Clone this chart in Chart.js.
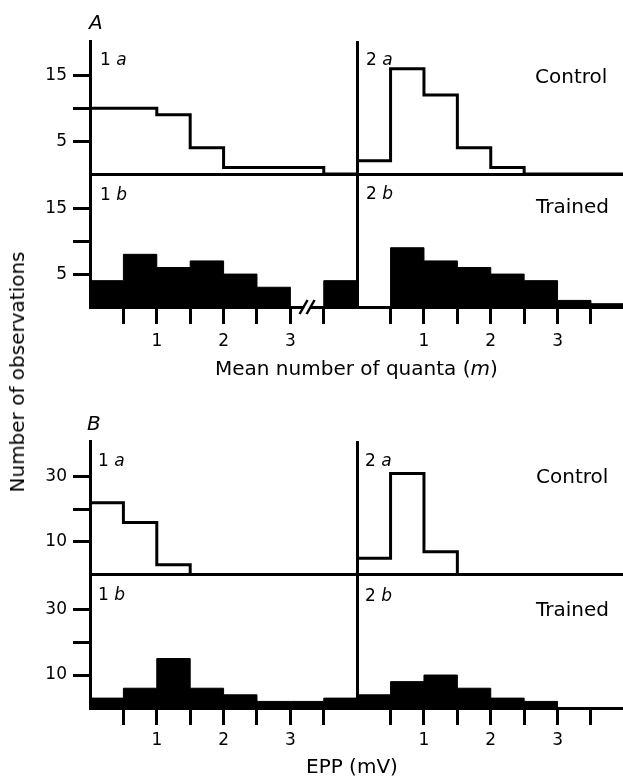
<!DOCTYPE html>
<html>
<head>
<meta charset="utf-8">
<script src="https://cdn.jsdelivr.net/npm/chart.js@4.4.1/dist/chart.umd.min.js"></script>
<style>
body { margin: 0; background: #fff; }
#wrap { position: relative; width: 623px; height: 779px; overflow: hidden; font-family: 'DejaVu Sans', sans-serif; color: #000; }
canvas { position: absolute; left: 0; }
.t { position: absolute; line-height: 1; white-space: nowrap; z-index: 2; }
.lab { font-size: 17px; }
.big { font-size: 20px; }
</style>
</head>
<body>
<div id="wrap">
  <canvas id="chartA" width="623" height="360" style="top:0"></canvas>
  <canvas id="chartB" width="623" height="379" style="top:400px"></canvas>

  <div class="t big" style="left:89px;top:12px;font-style:italic">A</div>
  <div class="t big" style="left:87px;top:413px;font-style:italic">B</div>

  <div class="t lab" style="left:100px;top:51px">1 <i>a</i></div>
  <div class="t lab" style="left:100px;top:186px">1 <i>b</i></div>
  <div class="t lab" style="left:366px;top:51px">2 <i>a</i></div>
  <div class="t lab" style="left:366px;top:185px">2 <i>b</i></div>
  <div class="t lab" style="left:98px;top:452px">1 <i>a</i></div>
  <div class="t lab" style="left:98px;top:586px">1 <i>b</i></div>
  <div class="t lab" style="left:365px;top:452px">2 <i>a</i></div>
  <div class="t lab" style="left:365px;top:587px">2 <i>b</i></div>

  <div class="t big" style="left:535px;top:66px">Control</div>
  <div class="t big" style="left:536px;top:196px">Trained</div>
  <div class="t big" style="left:536px;top:466px">Control</div>
  <div class="t big" style="left:536px;top:599px">Trained</div>

  <div class="t big" style="left:215px;top:358px">Mean number of quanta (<i>m</i>)</div>
  <div class="t big" style="left:306px;top:756px">EPP (mV)</div>
  <div class="t big" style="left:17px;top:372px;transform:translate(-50%,-50%) rotate(-90deg)">Number of observations</div>
</div>

<script>
// bin left edges, 0.5 wide; the last bin (3.5-4) is the overflow bin
var binEdges = [0, 0.5, 1, 1.5, 2, 2.5, 3, 3.5];
var binEnd = 4;
var rightOffset = 4; // panel 2 sits to the right of panel 1 on the same axis

// A: mean number of quanta (m)
var quantaControl1 = [10, 10, 9, 4, 1, 1, 1, 0];
var quantaTrained1 = [4, 8, 6, 7, 5, 3, 0, 4];
var quantaControl2 = [2, 16, 12, 4, 1, 0, 0, 0];
var quantaTrained2 = [0, 9, 7, 6, 5, 4, 1, 0.5];

// B: EPP (mV)
var eppControl1 = [22, 16, 3, 0, 0, 0, 0, 0];
var eppTrained1 = [3, 6, 15, 6, 4, 2, 2, 3];
var eppControl2 = [5, 31, 7, 0, 0, 0, 0, 0];
var eppTrained2 = [4, 8, 10, 6, 3, 2, 0, 0];

// ticks
var xTicks = [0, 0.5, 1, 1.5, 2, 2.5, 3, 3.5, 4, 4.5, 5, 5.5, 6, 6.5, 7, 7.5];
var quantaYTicks = [0, 5, 10, 15];
var quantaYLabels = [5, 15];
var eppYTicks = [0, 10, 20, 30];
var eppYLabels = [10, 30];

var CLEAR = 'rgba(0,0,0,0)';
Chart.defaults.font.family = "'DejaVu Sans', sans-serif";
Chart.defaults.font.size = 17;
Chart.defaults.color = '#000';

function stepPoints(values, offset) {
    var pts = binEdges.map(function(e, i) {
        return { x: e + offset, y: values[i] };
    });
    pts.push({ x: binEnd + offset, y: 0 });
    return pts;
}

function histSet(values, offset, axis, filled) {
    return {
        data: stepPoints(values, offset),
        yAxisID: axis,
        stepped: 'before', // hold each bin's value across to the next edge
        borderColor: '#000',
        borderWidth: filled ? 1 : 3,
        backgroundColor: '#000',
        fill: filled ? 'origin' : false,
        pointRadius: 0
    };
}

function yAxis(max, tickValues, labelled, isTop) {
    return {
        type: 'linear',
        position: 'left',
        stack: 'panel',
        stackWeight: 1,
        min: 0,
        max: max,
        afterBuildTicks: function(scale) {
            scale.ticks = tickValues.map(function(v) { return { value: v }; });
        },
        afterFit: function(scale) { scale.width = 90; },
        border: { display: true, color: '#000', width: 3 },
        grid: {
            color: function(c) { return isTop && c.tick && c.tick.value === 0 ? '#000' : CLEAR; },
            lineWidth: 3,
            tickColor: function(c) { return c.tick && c.tick.value !== 0 ? '#000' : CLEAR; },
            tickWidth: 3,
            tickLength: 17
        },
        ticks: {
            padding: 6,
            callback: function(v) { return labelled.indexOf(v) >= 0 ? String(v) : ''; }
        }
    };
}

function xAxis(xHeight, pad) {
    return {
        type: 'linear',
        min: 0,
        max: 7.98,
        afterBuildTicks: function(scale) {
            scale.ticks = xTicks.map(function(v) { return { value: v }; });
        },
        afterFit: function(scale) { scale.height = xHeight; },
        border: { color: '#000', width: 3 },
        grid: {
            color: function(c) { return c.tick && c.tick.value % rightOffset === 0 ? '#000' : CLEAR; },
            lineWidth: 3,
            tickColor: function(c) { return c.tick && c.tick.value % rightOffset === 0 ? CLEAR : '#000'; },
            tickWidth: 3,
            tickLength: 17
        },
        ticks: {
            autoSkip: false,
            maxRotation: 0,
            padding: pad,
            callback: function(v) {
                var m = v % rightOffset;
                return Number.isInteger(v) && m !== 0 ? String(m) : '';
            }
        }
    };
}

// "//" mark on the quanta axis
var axisBreak = {
    id: 'axisBreak',
    afterDatasetsDraw: function(chart, args, opts) {
        var x = chart.scales.x.getPixelForValue(opts.at);
        var y = chart.chartArea.bottom;
        var ctx = chart.ctx;
        ctx.save();
        ctx.fillStyle = '#fff';
        ctx.fillRect(x - 3, y - 2, 6, 4);
        ctx.strokeStyle = '#000';
        ctx.lineWidth = 2.5;
        [-3.5, 3.5].forEach(function(dx) {
            ctx.beginPath();
            ctx.moveTo(x + dx - 4, y + 7);
            ctx.lineTo(x + dx + 4, y - 7);
            ctx.stroke();
        });
        ctx.restore();
    }
};

function makePanel(id, c1, t1, c2, t2, maxC, maxT, yTicks, yLabels, xHeight, pad, breakAt) {
    var opts = {
        responsive: false,
        animation: false,
        devicePixelRatio: 1,
        layout: { padding: { top: 41, left: 0, right: 0, bottom: 0 } },
        plugins: { legend: { display: false }, tooltip: { enabled: false } },
        scales: {
            x: xAxis(xHeight, pad),
            yTrained: yAxis(maxT, yTicks, yLabels, false),
            yControl: yAxis(maxC, yTicks, yLabels, true)
        }
    };
    var plugins = [];
    if (breakAt != null) {
        opts.plugins.axisBreak = { at: breakAt };
        plugins.push(axisBreak);
    }
    return new Chart(document.getElementById(id), {
        type: 'line',
        data: {
            datasets: [
                histSet(c1, 0, 'yControl', false),
                histSet(c2, rightOffset, 'yControl', false),
                histSet(t1, 0, 'yTrained', true),
                histSet(t2, rightOffset, 'yTrained', true)
            ]
        },
        options: opts,
        plugins: plugins
    });
}

makePanel('chartA', quantaControl1, quantaTrained1, quantaControl2, quantaTrained2,
    20.2, 20.2, quantaYTicks, quantaYLabels, 53, 7, 3.25);
makePanel('chartB', eppControl1, eppTrained1, eppControl2, eppTrained2,
    41, 40.5, eppYTicks, eppYLabels, 71, 5, null);
</script>
</body>
</html>
